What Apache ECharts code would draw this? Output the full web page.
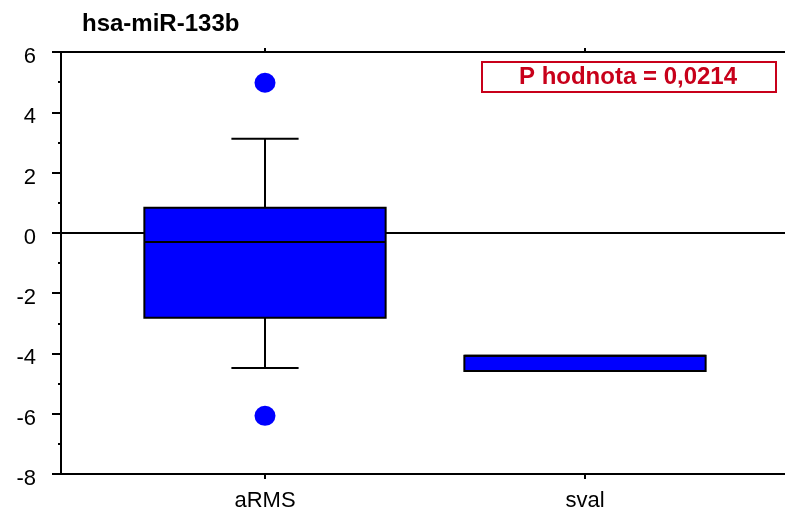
<!DOCTYPE html>
<html>
<head>
<meta charset="utf-8">
<script src="https://cdn.jsdelivr.net/npm/echarts@6/dist/echarts.min.js"></script>
<style>
  html, body { margin: 0; padding: 0; background: #fff; }
  #chart { width: 785px; height: 513px; }
</style>
</head>
<body>
<div id="chart"></div>
<script>
// Groups on the horizontal axis and their positions
const categories = ['aRMS', 'sval'];
const categoryPositions = [1, 2];

// Box statistics per group
const whiskerLow  = [-4.48, -4.58];
const quartile1   = [-2.82, -4.58];
const medians     = [-0.30, -4.08];
const quartile3   = [0.83, -4.08];
const whiskerHigh = [3.12, -4.08];

// Outlying points: group index and value
const outlierGroup  = [0, 0];
const outlierValues = [4.98, -6.07];

const chartTitle = 'hsa-miR-133b';
const pValueText = 'P hodnota = 0,0214';

const FONT = '"Liberation Sans", Arial, sans-serif';

const boxData = categories.map((c, i) => [
  categoryPositions[i], whiskerLow[i], quartile1[i], medians[i], quartile3[i], whiskerHigh[i]
]);
const outlierData = outlierValues.map((v, i) => [categoryPositions[outlierGroup[i]], v]);

const chart = echarts.init(document.getElementById('chart'));

const xMin = 0.3625, xMax = 2.625;
const lineBlack = { color: '#000', width: 2 };

chart.setOption({
  animation: false,
  backgroundColor: '#fff',
  title: {
    text: chartTitle,
    left: 82, top: 12, padding: 0,
    textStyle: { fontFamily: FONT, fontSize: 24, fontWeight: 'bold', color: '#000' }
  },
  grid: { left: 61, right: 0, top: 52, bottom: 39 },
  xAxis: [
    {
      type: 'value', min: xMin, max: xMax, position: 'bottom',
      axisLine: { show: true, onZero: false, lineStyle: lineBlack },
      axisTick: { show: true, customValues: categoryPositions, length: 5, lineStyle: lineBlack },
      axisLabel: {
        customValues: categoryPositions, margin: 16,
        formatter: v => categories[categoryPositions.indexOf(Math.round(v))] || '',
        fontFamily: FONT, fontSize: 22, color: '#000'
      },
      splitLine: { show: false }
    },
    {
      type: 'value', min: xMin, max: xMax, position: 'top',
      axisLine: { show: true, onZero: false, lineStyle: lineBlack },
      axisTick: { show: true, customValues: categoryPositions, length: 4, lineStyle: lineBlack },
      axisLabel: { show: false },
      splitLine: { show: false }
    }
  ],
  yAxis: {
    type: 'value', min: -8, max: 6, interval: 2,
    axisLine: { show: true, onZero: false, lineStyle: lineBlack },
    axisTick: { show: true, length: 9, lineStyle: lineBlack },
    minorTick: { show: true, splitNumber: 2, length: 3, lineStyle: lineBlack },
    axisLabel: {
      margin: 25,
      formatter: v => '{v|' + v + '}',
      rich: { v: { fontFamily: FONT, fontSize: 22, color: '#000', padding: [10, 0, 0, 0] } }
    },
    splitLine: { show: false }
  },
  series: [
    {
      // reference line at zero, kept beneath the boxes
      type: 'line', data: [], z: 1, silent: true,
      markLine: {
        z: 1, silent: true, symbol: 'none', animation: false,
        label: { show: false },
        lineStyle: { color: '#000', width: 2, type: 'solid' },
        data: [{ yAxis: 0 }]
      }
    },
    {
      type: 'custom', z: 6,
      data: boxData,
      encode: { x: 0, y: [1, 2, 3, 4, 5] },
      renderItem(params, api) {
        const x = api.value(0);
        const lo = api.value(1), q1 = api.value(2), med = api.value(3), q3 = api.value(4), hi = api.value(5);
        const halfBox = 0.377, halfCap = 0.105;
        const pt = (xv, yv) => api.coord([xv, yv]);
        const stroke = { stroke: '#000', lineWidth: 2 };
        const seg = (a, b) => ({ type: 'line', shape: { x1: a[0], y1: a[1], x2: b[0], y2: b[1] }, style: stroke });
        const children = [];
        if (hi > q3) {
          children.push(seg(pt(x, q3), pt(x, hi)));
          children.push(seg(pt(x - halfCap, hi), pt(x + halfCap, hi)));
        }
        if (lo < q1) {
          children.push(seg(pt(x, q1), pt(x, lo)));
          children.push(seg(pt(x - halfCap, lo), pt(x + halfCap, lo)));
        }
        const tl = pt(x - halfBox, q3), br = pt(x + halfBox, q1);
        children.push({
          type: 'rect',
          shape: { x: tl[0], y: tl[1], width: br[0] - tl[0], height: br[1] - tl[1] },
          style: { fill: '#0000ff', stroke: '#000', lineWidth: 2 }
        });
        children.push(seg(pt(x - halfBox, med), pt(x + halfBox, med)));
        return { type: 'group', children };
      }
    },
    {
      type: 'scatter', z: 6,
      data: outlierData,
      symbol: 'circle', symbolSize: [21, 20],
      itemStyle: { color: '#0000ff', opacity: 1 }
    }
  ],
  graphic: [
    {
      type: 'rect', left: 481, top: 61, z: 10,
      shape: { width: 294, height: 30 },
      style: { fill: '#fff', stroke: '#c8001a', lineWidth: 2 }
    },
    {
      type: 'text', z: 11,
      x: 628, y: 77,
      style: {
        text: pValueText, fill: '#c8001a',
        font: 'bold 24px ' + FONT,
        align: 'center', verticalAlign: 'middle'
      }
    }
  ]
});
</script>
</body>
</html>
